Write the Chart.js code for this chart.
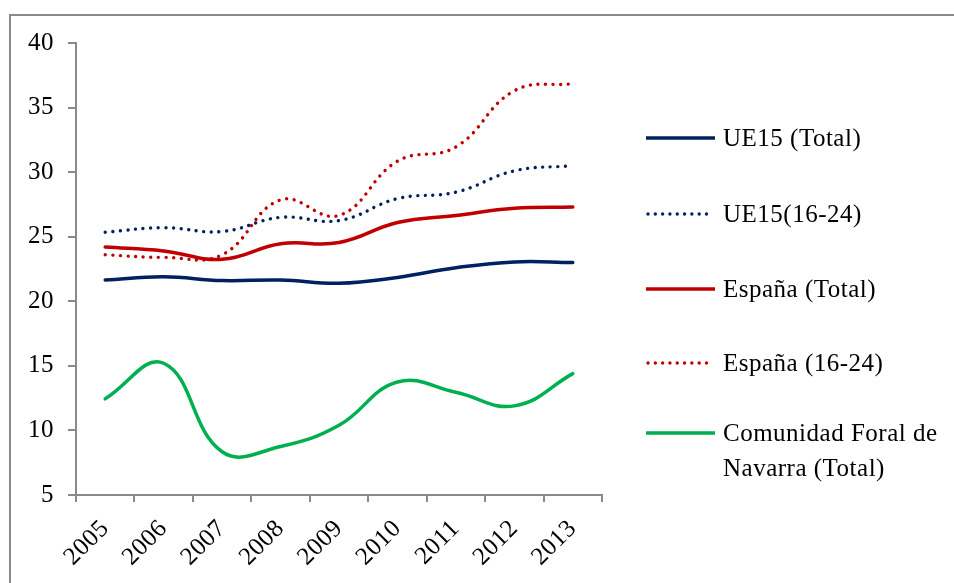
<!DOCTYPE html>
<html>
<head>
<meta charset="utf-8">
<script src="https://cdn.jsdelivr.net/npm/chart.js@4"></script>
<style>
  html, body { margin: 0; padding: 0; background: #fff; }
  #wrap { position: relative; width: 954px; height: 583px; overflow: hidden; }
  #frame { position: absolute; left: 9px; top: 14px; width: 960px; height: 580px;
           border-top: 2px solid #8a8a8a; border-left: 2px solid #8a8a8a; box-sizing: border-box; }
  canvas { position: absolute; left: 0; top: 0; }
</style>
</head>
<body>
<div id="wrap">
  <div id="frame"></div>
  <canvas id="c" width="954" height="583"></canvas>
</div>
<script>
const categories = ['2005','2006','2007','2008','2009','2010','2011','2012','2013'];
const ue15Total   = [21.65, 21.9, 21.6, 21.65, 21.4, 21.85, 22.6, 23.05, 23.0];
const ue15Young   = [25.35, 25.7, 25.4, 26.5, 26.25, 27.95, 28.45, 30.1, 30.5];
const espTotal    = [24.2, 23.9, 23.25, 24.45, 24.55, 26.1, 26.65, 27.2, 27.3];
const espYoung    = [23.6, 23.4, 23.6, 27.85, 26.65, 30.85, 31.95, 36.3, 36.85];
const navarra     = [12.45, 15.2, 8.35, 8.75, 10.4, 13.75, 12.95, 11.9, 14.4];
const seriesLabels = ['UE15 (Total)', 'UE15(16-24)', 'España (Total)', 'España (16-24)', ['Comunidad Foral de', 'Navarra (Total)']];
const yTicks = [5, 10, 15, 20, 25, 30, 35, 40];

const NAVY = '#002060', RED = '#c00000', GREEN = '#00b050';
const FONT = '"Liberation Serif", "Times New Roman", serif';

function ds(label, data, color, dotted) {
  return {
    label: label, data: data, borderColor: color, backgroundColor: color,
    borderWidth: dotted ? 3.4 : 3.5,
    borderDash: dotted ? [0.01, 7.6] : [],
    borderCapStyle: 'round',
    pointRadius: 0, pointHoverRadius: 0,
    tension: 0.42, fill: false, dotted: dotted
  };
}

const legendPlugin = {
  id: 'sideLegend',
  beforeDraw(chart) { chart.ctx.letterSpacing = '0.5px'; },
  afterDraw(chart) {
    const ctx = chart.ctx;
    ctx.save();
    ctx.letterSpacing = '0.5px';
    ctx.font = '25px ' + FONT;
    ctx.fillStyle = '#000';
    ctx.textBaseline = 'middle';
    ctx.textAlign = 'left';
    const ys = [138, 214, 289, 363, 433];
    chart.data.datasets.forEach((d, i) => {
      const y = ys[i];
      ctx.save();
      ctx.strokeStyle = d.borderColor;
      if (d.dotted) {
        ctx.lineWidth = 3.4;
        ctx.lineCap = 'round';
        ctx.setLineDash([0.01, 7.3]);
        ctx.beginPath(); ctx.moveTo(648, y); ctx.lineTo(707, y); ctx.stroke();
      } else {
        ctx.lineWidth = 3.5;
        ctx.lineCap = 'butt';
        ctx.beginPath(); ctx.moveTo(646, y); ctx.lineTo(715, y); ctx.stroke();
      }
      ctx.restore();
      const lines = Array.isArray(d.label) ? d.label : [d.label];
      lines.forEach((t, k) => ctx.fillText(t, 723, y + 1 + k * 35));
    });
    ctx.restore();
  }
};

new Chart(document.getElementById('c'), {
  type: 'line',
  data: {
    labels: categories,
    datasets: [
      ds(seriesLabels[0], ue15Total, NAVY, false),
      ds(seriesLabels[1], ue15Young, NAVY, true),
      ds(seriesLabels[2], espTotal, RED, false),
      ds(seriesLabels[3], espYoung, RED, true),
      ds(seriesLabels[4], navarra, GREEN, false)
    ]
  },
  options: {
    responsive: false,
    animation: false,
    layout: { padding: { left: 0, top: 43, right: 352, bottom: 0 } },
    plugins: { legend: { display: false }, tooltip: { enabled: false } },
    scales: {
      x: {
        type: 'category',
        offset: true,
        grid: { offset: true, drawOnChartArea: false, drawTicks: true, tickLength: 7, color: '#8a8a8a', lineWidth: 2 },
        border: { color: '#8a8a8a', width: 2 },
        ticks: { color: '#000', font: { family: FONT, size: 25 }, maxRotation: 45, minRotation: 45, padding: 12, autoSkip: false },
        afterFit(s) { s.height = 88; }
      },
      y: {
        min: 5, max: 40,
        afterBuildTicks(s) { s.ticks = yTicks.map(v => ({ value: v })); },
        grid: { drawOnChartArea: false, drawTicks: true, tickLength: 8, color: '#8a8a8a', lineWidth: 2 },
        border: { color: '#8a8a8a', width: 2 },
        ticks: { color: '#000', font: { family: FONT, size: 25 }, padding: 14 },
        afterFit(s) { s.width = 76; }
      }
    }
  },
  plugins: [legendPlugin]
});
</script>
</body>
</html>
